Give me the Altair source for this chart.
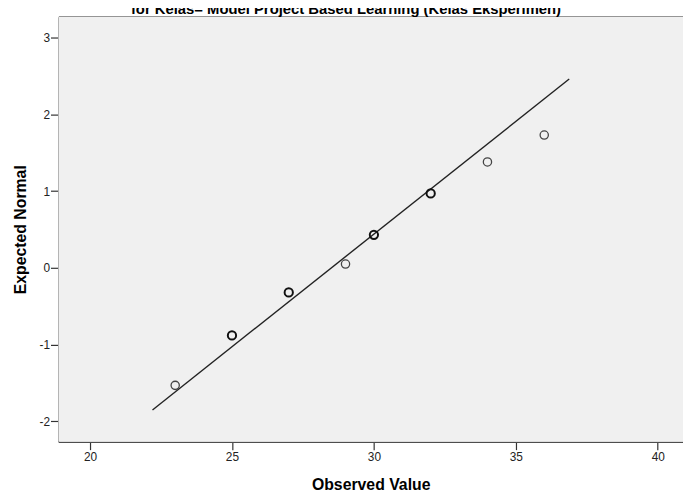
import altair as alt
import pandas as pd

# ---- data ----
observed = [23, 25, 27, 29, 30, 32, 34, 36]
expected = [-1.53, -0.88, -0.32, 0.05, 0.43, 0.97, 1.38, 1.73]
ties = [1, 2, 2, 1, 2, 2, 1, 1]
line_x = [22.2, 36.88]
line_y = [-1.85, 2.46]
x_ticks = [20, 25, 30, 35, 40]
y_ticks = [-2, -1, 0, 1, 2, 3]
x_domain = [18.886, 40.888]
y_domain = [-2.264, 3.270]
title_text = "for Kelas= Model Project Based Learning (Kelas Eksperimen)"

pts = pd.DataFrame({"obs": observed, "exp": expected, "ties": ties})
ln = pd.DataFrame({"obs": line_x, "exp": line_y})
ttl = pd.DataFrame({"t": [title_text]})

FONT = "Liberation Sans"
W, H = 632, 430

xscale = alt.Scale(domain=x_domain, nice=False, zero=False)
yscale = alt.Scale(domain=y_domain, nice=False, zero=False)

x_bottom = alt.X(
    "obs:Q", scale=xscale,
    axis=alt.Axis(
        values=x_ticks, title="Observed Value", grid=False,
        labelExpr="'' + datum.value",
        tickSize=8, tickColor="#333333", tickWidth=1.2,
        labelPadding=2, labelFontSize=12, labelColor="#222222", labelFont=FONT,
        domainColor="#4d4d4d", domainWidth=1.6,
        titleFont=FONT, titleFontSize=16, titleFontWeight="bold", titleColor="#000000",
        titleY=48.5, titleBaseline="alphabetic",
    ),
)
y_left = alt.Y(
    "exp:Q", scale=yscale,
    axis=alt.Axis(
        values=y_ticks, title="Expected Normal", grid=False,
        labelExpr="'' + datum.value",
        tickSize=8, tickColor="#333333", tickWidth=1.2,
        labelPadding=1, labelFontSize=12, labelColor="#222222", labelFont=FONT,
        domainColor="#4d4d4d", domainWidth=1.6,
        titleFont=FONT, titleFontSize=16, titleFontWeight="bold", titleColor="#000000",
        titleX=-33, titleBaseline="alphabetic",
    ),
)

bg = alt.Chart(ttl).mark_rect(fill="#f0f0f0", stroke=None).encode(
    x=alt.value(0), x2=alt.value(W), y=alt.value(0), y2=alt.value(H)
)

line = alt.Chart(ln).mark_line(color="#222222", strokeWidth=1.4).encode(
    x=x_bottom, y=y_left
)

points = alt.Chart(pts).mark_point(shape="circle", size=70, filled=False, opacity=1).encode(
    x=alt.X("obs:Q", scale=xscale,
            axis=alt.Axis(orient="top", labels=False, ticks=False, title=None, grid=False,
                          domainColor="#4d4d4d", domainWidth=2)),
    y=alt.Y("exp:Q", scale=yscale),
    strokeWidth=alt.StrokeWidth("ties:Q", scale=alt.Scale(domain=[1, 2], range=[1.3, 2.0]), legend=None),
    color=alt.Color("ties:Q", scale=alt.Scale(domain=[1, 2], range=["#444444", "#111111"]), legend=None),
)

title = alt.Chart(ttl).mark_text(
    font=FONT, fontSize=15, fontWeight="bold", color="#000000",
    align="center", baseline="alphabetic",
).encode(text="t:N", x=alt.value(291), y=alt.value(-2.5))

chart = (
    alt.layer(bg, line, points, title)
    .resolve_axis(x="independent")
    .properties(
        width=W,
        height=H,
        autosize=alt.AutoSizeParams(type="none"),
        padding={"left": 51, "top": 6, "right": 0, "bottom": 50},
    )
    .configure_view(fill="#f0f0f0", strokeOpacity=0)
    .configure(background="#ffffff")
)

chart.save("out.html", embed_options={"renderer": "svg", "actions": False})
